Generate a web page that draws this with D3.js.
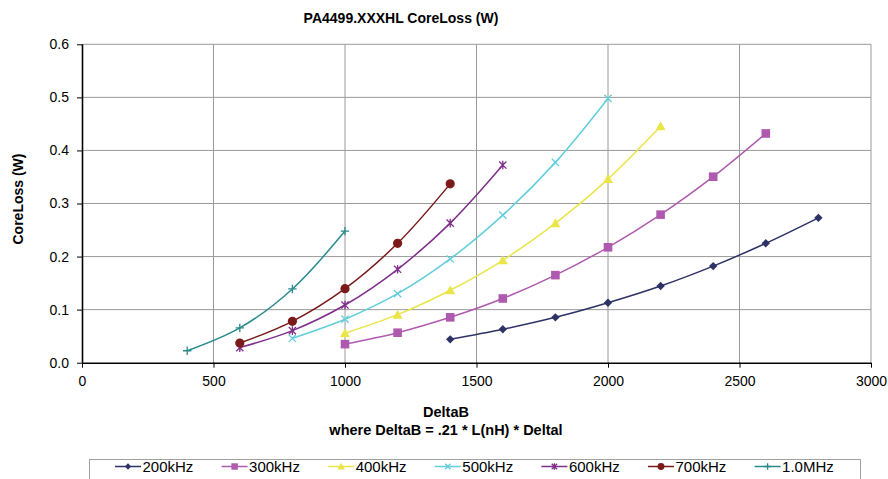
<!DOCTYPE html>
<html>
<head>
<meta charset="utf-8">
<script src="https://cdn.jsdelivr.net/npm/d3@7/dist/d3.min.js"></script>
<style>
  html, body { margin: 0; padding: 0; background: #fff; }
  svg { display: block; font-family: "Liberation Sans", Arial, Helvetica, sans-serif; }
</style>
</head>
<body>
<svg id="chart" width="888" height="479"></svg>
<script>
// ---- data ----
const seriesNames = ["200kHz", "300kHz", "400kHz", "500kHz", "600kHz", "700kHz", "1.0MHz"];
const deltaB200 = [1400, 1600, 1800, 2000, 2200, 2400, 2600, 2800];
const loss200   = [0.044, 0.063, 0.0855, 0.113, 0.1445, 0.182, 0.225, 0.273];
const deltaB300 = [1000, 1200, 1400, 1600, 1800, 2000, 2200, 2400, 2600];
const loss300   = [0.035, 0.0565, 0.0855, 0.121, 0.165, 0.2175, 0.279, 0.3505, 0.432];
const deltaB400 = [1000, 1200, 1400, 1600, 1800, 2000, 2200];
const loss400   = [0.0555, 0.0905, 0.1365, 0.193, 0.263, 0.346, 0.4455];
const deltaB500 = [800, 1000, 1200, 1400, 1600, 1800, 2000];
const loss500   = [0.046, 0.082, 0.130, 0.1955, 0.278, 0.3775, 0.498];
const deltaB600 = [600, 800, 1000, 1200, 1400, 1600];
const loss600   = [0.0285, 0.0605, 0.1087, 0.176, 0.263, 0.3725];
const deltaB700 = [600, 800, 1000, 1200, 1400];
const loss700   = [0.037, 0.078, 0.1395, 0.225, 0.337];
const deltaB1M  = [400, 600, 800, 1000];
const loss1M    = [0.0225, 0.0655, 0.139, 0.248];
const xTicks = [0, 500, 1000, 1500, 2000, 2500, 3000];
const yTicks = [0, 0.1, 0.2, 0.3, 0.4, 0.5, 0.6];

const seriesX = [deltaB200, deltaB300, deltaB400, deltaB500, deltaB600, deltaB700, deltaB1M];
const seriesY = [loss200, loss300, loss400, loss500, loss600, loss700, loss1M];
const colors  = ["#2E3366", "#AE5AAE", "#EAE548", "#62CEDC", "#7F2E8A", "#7A1A1A", "#2A8A8C"];
const markers = ["diamond", "square", "triangle", "x", "star", "circle", "plus"];

const series = seriesNames.map((name, i) => ({
  name, color: colors[i], marker: markers[i],
  points: seriesX[i].map((x, j) => ({ x, y: seriesY[i][j] }))
}));

// ---- layout ----
const svg = d3.select("#chart");
const x = d3.scaleLinear().domain([0, 3000]).range([82, 871]);
const y = d3.scaleLinear().domain([0, 0.6]).range([362.7, 44.3]);

// grid
const grid = svg.append("g");
grid.selectAll("line.v").data(xTicks.filter(d => d > 0)).enter().append("line")
  .attr("x1", d => x(d)).attr("x2", d => x(d))
  .attr("y1", y(0)).attr("y2", y(0.6))
  .attr("stroke", "#9a9a9a").attr("stroke-width", 1);
grid.selectAll("line.h").data(yTicks.filter(d => d > 0)).enter().append("line")
  .attr("x1", x(0)).attr("x2", x(3000))
  .attr("y1", d => y(d)).attr("y2", d => y(d))
  .attr("stroke", "#9a9a9a").attr("stroke-width", 1);

// axes
const xAxis = d3.axisBottom(x).tickValues(xTicks).tickFormat(d3.format("d")).tickSize(5).tickPadding(8);
const yAxis = d3.axisLeft(y).tickValues(yTicks).tickFormat(d3.format(".1f")).tickSize(5).tickPadding(8);

const gx = svg.append("g").attr("transform", `translate(0,${y(0)})`).call(xAxis);
const gy = svg.append("g").attr("transform", `translate(${x(0)},0)`).call(yAxis);
[gx, gy].forEach(g => {
  g.select(".domain").attr("stroke", "#000").attr("stroke-width", 1.6);
  g.selectAll(".tick line").attr("stroke", "#000").attr("stroke-width", 1);
  g.selectAll(".tick text").attr("fill", "#000").style("font-size", "14px")
    .style("font-family", "'Liberation Sans', Arial, sans-serif");
});
gx.select(".domain").attr("d", `M${x(0)},0.5H${x(3000)}`);
gy.select(".domain").attr("d", `M0.5,${y(0)}V${y(0.6)}`);

// lines
const line = d3.line().x(d => x(d.x)).y(d => y(d.y)).curve(d3.curveCatmullRom.alpha(0.5));
const plot = svg.append("g");
series.forEach(s => {
  plot.append("path").datum(s.points)
    .attr("d", line).attr("fill", "none")
    .attr("stroke", s.color).attr("stroke-width", 1.5);
});

function drawMarker(g, type, cx, cy, color, scale) {
  const k = scale || 1;
  if (type === "diamond") {
    const r = 4.2 * k;
    g.append("path").attr("d", `M${cx},${cy - r}L${cx + r},${cy}L${cx},${cy + r}L${cx - r},${cy}Z`).attr("fill", color);
  } else if (type === "square") {
    const r = 4.3 * k;
    g.append("rect").attr("x", cx - r).attr("y", cy - r).attr("width", 2 * r).attr("height", 2 * r).attr("fill", color);
  } else if (type === "triangle") {
    const r = 5 * k;
    g.append("path").attr("d", `M${cx},${cy - r}L${cx + r},${cy + r * 0.8}L${cx - r},${cy + r * 0.8}Z`).attr("fill", color);
  } else if (type === "x") {
    const r = 3.6 * k;
    g.append("path").attr("d", `M${cx - r},${cy - r}L${cx + r},${cy + r}M${cx - r},${cy + r}L${cx + r},${cy - r}`)
      .attr("stroke", color).attr("stroke-width", 1.3).attr("fill", "none");
  } else if (type === "star") {
    const r = 3.6 * k;
    g.append("path").attr("d", `M${cx - r},${cy - r}L${cx + r},${cy + r}M${cx - r},${cy + r}L${cx + r},${cy - r}M${cx},${cy - r * 1.2}L${cx},${cy + r * 1.2}`)
      .attr("stroke", color).attr("stroke-width", 1.3).attr("fill", "none");
  } else if (type === "circle") {
    g.append("circle").attr("cx", cx).attr("cy", cy).attr("r", 4.6 * k).attr("fill", color);
  } else if (type === "plus") {
    const r = 4.2 * k;
    g.append("path").attr("d", `M${cx - r},${cy}L${cx + r},${cy}M${cx},${cy - r}L${cx},${cy + r}`)
      .attr("stroke", color).attr("stroke-width", 1.3).attr("fill", "none");
  }
}

series.forEach(s => {
  const g = plot.append("g");
  s.points.forEach(p => drawMarker(g, s.marker, x(p.x), y(p.y), s.color));
});

// titles
svg.append("text").attr("x", 401).attr("y", 22.5).attr("text-anchor", "middle")
  .style("font-size", "14px").style("font-weight", "bold").text("PA4499.XXXHL CoreLoss (W)");
svg.append("text").attr("transform", "translate(23,199) rotate(-90)").attr("text-anchor", "middle")
  .style("font-size", "14px").style("font-weight", "bold").text("CoreLoss (W)");
svg.append("text").attr("x", 446).attr("y", 416.5).attr("text-anchor", "middle")
  .style("font-size", "14.5px").style("font-weight", "bold").text("DeltaB");
svg.append("text").attr("x", 446).attr("y", 435).attr("text-anchor", "middle")
  .style("font-size", "14.5px").style("font-weight", "bold").text("where DeltaB = .21 * L(nH) * Deltal");

// legend
const legend = svg.append("g");
legend.append("rect").attr("x", 89.5).attr("y", 459.5).attr("width", 771).attr("height", 30)
  .attr("fill", "#fff").attr("stroke", "#a0a0a0").attr("stroke-width", 1);
const legX0 = 115, legStep = 106.6, legY = 466.5;
series.forEach((s, i) => {
  const lx = legX0 + i * legStep;
  const g = legend.append("g");
  g.append("line").attr("x1", lx).attr("x2", lx + 26).attr("y1", legY).attr("y2", legY)
    .attr("stroke", s.color).attr("stroke-width", 1.5);
  drawMarker(g, s.marker, lx + 13, legY, s.color, 0.75);
  g.append("text").attr("x", lx + 27.5).attr("y", legY + 5.5).style("font-size", "15px").attr("fill", "#000").text(s.name);
});
</script>
</body>
</html>
